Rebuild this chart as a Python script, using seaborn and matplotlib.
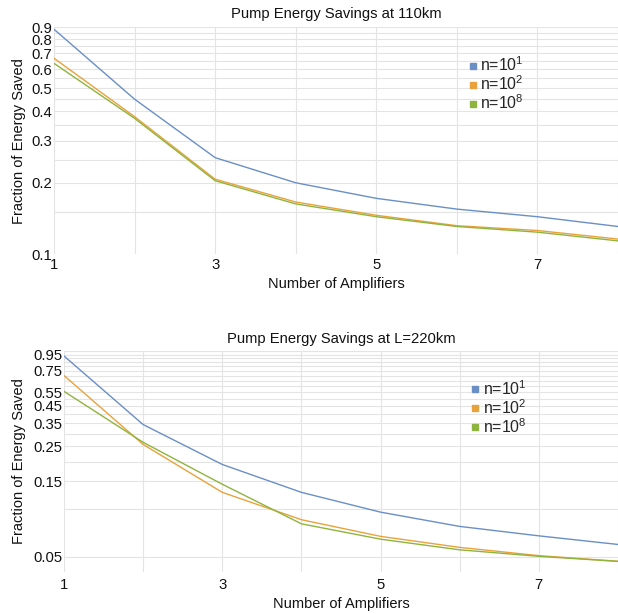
import numpy as np
import pandas as pd
import matplotlib
matplotlib.use("Agg")
import matplotlib.pyplot as plt
from matplotlib.ticker import FixedLocator, NullLocator, FixedFormatter
from matplotlib.lines import Line2D
import seaborn as sns

# ---------------- data ----------------
amplifiers = [1, 2, 3, 4, 5, 6, 7, 8]
series_labels = ["n=10$^{1}$", "n=10$^{2}$", "n=10$^{8}$"]
colors = ["#6a8fc6", "#e9a23b", "#8fb43d"]

top_title = "Pump Energy Savings at 110km"
top_n1 = [0.883, 0.449, 0.255, 0.200, 0.172, 0.155, 0.144, 0.131]
top_n2 = [0.667, 0.379, 0.207, 0.166, 0.146, 0.132, 0.126, 0.116]
top_n8 = [0.635, 0.373, 0.204, 0.163, 0.144, 0.131, 0.124, 0.114]

bot_title = "Pump Energy Savings at L=220km"
bot_n1 = [0.930, 0.343, 0.192, 0.128, 0.096, 0.078, 0.068, 0.060]
bot_n2 = [0.700, 0.257, 0.128, 0.086, 0.0675, 0.0575, 0.051, 0.047]
bot_n8 = [0.556, 0.265, 0.144, 0.081, 0.0648, 0.0555, 0.0505, 0.0469]

x_tick_labels = ["1", "", "3", "", "5", "", "7", ""]
top_yticks = [0.10, 0.15, 0.20, 0.25, 0.30, 0.35, 0.40, 0.45, 0.50, 0.55,
              0.60, 0.65, 0.70, 0.75, 0.80, 0.85, 0.90]
top_ytick_labels = ["0.1", "", "0.2", "", "0.3", "", "0.4", "", "0.5", "",
                    "0.6", "", "0.7", "", "0.8", "", "0.9"]
bot_yticks = [0.05, 0.10, 0.15, 0.20, 0.25, 0.30, 0.35, 0.40, 0.45, 0.50,
              0.55, 0.60, 0.65, 0.70, 0.75, 0.80, 0.85, 0.90, 0.95, 1.00]
bot_ytick_labels = ["0.05", "", "0.15", "", "0.25", "", "0.35", "", "0.45", "",
                    "0.55", "", "", "", "0.75", "", "", "", "0.95", ""]
xlabel = "Number of Amplifiers"
ylabel = "Fraction of Energy Saved"

# ---------------- style ----------------
sns.set_theme(style="white")
plt.rcParams["font.family"] = ["Liberation Sans", "DejaVu Sans"]
plt.rcParams["mathtext.default"] = "regular"
FS = 10

fig = plt.figure(figsize=(6.18, 6.14), dpi=100)
W, H = 618, 614


def make_df(n1, n2, n8):
    rows = []
    for lab, vals in zip(series_labels, [n1, n2, n8]):
        for a, v in zip(amplifiers, vals):
            rows.append({"amps": a, "frac": v, "series": lab})
    return pd.DataFrame(rows)


def draw(rect, title, n1, n2, n8, yticks, ylabels, ylim, tick_pad_x, title_pad,
         xlabel_pad, ylab_x, leg_anchor):
    ax = fig.add_axes(rect)
    df = make_df(n1, n2, n8)
    sns.lineplot(data=df, x="amps", y="frac", hue="series",
                 palette=dict(zip(series_labels, colors)), linewidth=1.0,
                 legend=False, ax=ax)
    ax.set_yscale("log")
    ax.set_xlim(1, 8)
    ax.set_ylim(*ylim)
    ax.yaxis.set_major_locator(FixedLocator(yticks))
    ax.yaxis.set_major_formatter(FixedFormatter(ylabels))
    ax.yaxis.set_minor_locator(NullLocator())
    ax.xaxis.set_major_locator(FixedLocator(amplifiers))
    ax.xaxis.set_major_formatter(FixedFormatter(x_tick_labels))
    ax.grid(True, which="major", color="#e4e4e4", linewidth=0.8)
    ax.set_axisbelow(True)
    for s in ax.spines.values():
        s.set_visible(False)
    ax.tick_params(axis="both", length=0, labelsize=FS + 0.7, colors="#111111")
    ax.tick_params(axis="y", pad=1)
    ax.tick_params(axis="x", pad=tick_pad_x)
    ax.set_title(title, fontsize=FS + 0.6, pad=title_pad, color="#111111")
    ax.set_xlabel(xlabel, fontsize=FS + 0.5, labelpad=xlabel_pad, color="#111111")
    ax.set_ylabel(ylabel, fontsize=FS + 0.5, color="#111111")
    ax.yaxis.set_label_coords(ylab_x, 0.5)
    handles = [Line2D([], [], linestyle="none", marker="s", markersize=4.5,
                      markerfacecolor=c, markeredgecolor=c) for c in colors]
    ax.legend(handles, series_labels, loc="center left", bbox_to_anchor=leg_anchor,
              frameon=False, fontsize=FS + 1.4, handlelength=0.6, handletextpad=0.15,
              labelspacing=0.02, borderpad=0, borderaxespad=0)
    return ax


# top axes: x from 54 to 618 px, y from 27 to 254 px
draw([54 / W, 1 - 254.4 / H, (618 - 54) / W, (254.4 - 27.3) / H],
     top_title, top_n1, top_n2, top_n8, top_yticks, top_ytick_labels, (0.1, 0.9),
     tick_pad_x=2.5, title_pad=7, xlabel_pad=4, ylab_x=-0.05,
     leg_anchor=(0.735, 0.75))

# bottom axes: x from 64 to 618 px, y from 351 to 572 px
draw([64 / W, 1 - 572 / H, (618 - 64) / W, (572 - 351) / H],
     bot_title, bot_n1, bot_n2, bot_n8, bot_yticks, bot_ytick_labels, (0.0402, 1.0),
     tick_pad_x=4, title_pad=6, xlabel_pad=4, ylab_x=-0.068,
     leg_anchor=(0.734, 0.745))

fig.savefig("out.png", dpi=100)
